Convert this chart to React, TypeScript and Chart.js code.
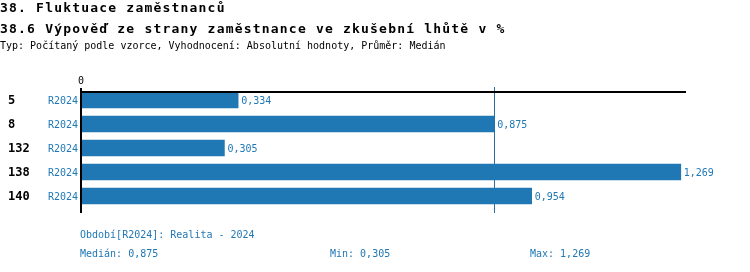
import React, { useEffect, useRef } from "react";
import { Chart, registerables } from "chart.js";

Chart.register(...registerables);

const title1 = "38. Fluktuace zaměstnanců";
const title2 = "38.6 Výpověď ze strany zaměstnance ve zkušební lhůtě v %";
const subtitle = "Typ: Počítaný podle vzorce, Vyhodnocení: Absolutní hodnoty, Průměr: Medián";
const periodCode = "R2024";
const periodName = "Realita - 2024";
const categories = ["5", "8", "132", "138", "140"];
const values = [0.334, 0.875, 0.305, 1.269, 0.954];
const xTicks = [0];
const axisMax = 1.28;

const BLUE = "#1f77b4";
const FONT = "'DejaVu Sans Mono', monospace";

const fmt = (v: number) => v.toFixed(3).replace(".", ",");
const sorted = [...values].sort((a, b) => a - b);
const median = sorted.length % 2 ? sorted[(sorted.length - 1) / 2] : (sorted[sorted.length / 2 - 1] + sorted[sorted.length / 2]) / 2;
const minV = sorted[0];
const maxV = sorted[sorted.length - 1];

const decorPlugin = {
  id: "decor",
  beforeDatasetsDraw(chart: any) {
    const { ctx, chartArea, scales } = chart;
    const xm = Math.round(scales.x.getPixelForValue(median)) + 0.5;
    ctx.save();
    ctx.strokeStyle = "#2a6f9f";
    ctx.lineWidth = 1;
    ctx.beginPath();
    ctx.moveTo(xm, chartArea.top - 1);
    ctx.lineTo(xm, chartArea.bottom + 5);
    ctx.stroke();
    ctx.restore();
  },
  afterDatasetsDraw(chart: any) {
    const { ctx, chartArea, scales } = chart;
    const x = scales.x;
    const y = scales.y;
    const x0 = x.getPixelForValue(0);
    ctx.save();
    // top line
    ctx.strokeStyle = "#000";
    ctx.lineWidth = 2;
    ctx.beginPath();
    ctx.moveTo(x0, chartArea.top + 4);
    ctx.lineTo(chartArea.right, chartArea.top + 4);
    ctx.stroke();
    // axis line
    ctx.beginPath();
    ctx.moveTo(x0 + 1, chartArea.top);
    ctx.lineTo(x0 + 1, chartArea.bottom + 5);
    ctx.stroke();
    // tick labels
    ctx.fillStyle = "#000";
    ctx.font = `10px ${FONT}`;
    ctx.textAlign = "center";
    ctx.textBaseline = "middle";
    xTicks.forEach((t) => {
      ctx.fillText(String(t), x.getPixelForValue(t) + 1, chartArea.top - 7);
    });
    // category labels
    categories.forEach((c, i) => {
      const yc = y.getPixelForValue(i) + 1;
      ctx.fillStyle = "#000";
      ctx.font = `bold 12px ${FONT}`;
      ctx.textAlign = "left";
      ctx.fillText(c, 8, yc);
      ctx.fillStyle = BLUE;
      ctx.font = `10px ${FONT}`;
      ctx.textAlign = "right";
      ctx.fillText(periodCode, x0 - 2, yc);
      ctx.textAlign = "left";
      ctx.fillText(fmt(values[i]), x.getPixelForValue(values[i]) + 3, yc);
    });
    ctx.restore();
  },
};

export default function App() {
  const ref = useRef<HTMLCanvasElement>(null);
  useEffect(() => {
    if (!ref.current) return;
    const chart = new Chart(ref.current, {
      type: "bar",
      data: {
        labels: categories,
        datasets: [
          {
            label: periodCode,
            data: values,
            backgroundColor: BLUE,
            borderWidth: 0,
            barThickness: 16,
          },
        ],
      },
      options: {
        indexAxis: "y",
        responsive: false,
        animation: false,
        events: [],
        layout: { padding: { left: 80, right: 64, top: 88, bottom: 64 } },
        plugins: { legend: { display: false }, tooltip: { enabled: false }, title: { display: false } },
        scales: {
          x: { display: false, min: 0, max: axisMax },
          y: { display: false, type: "category" },
        },
      },
      plugins: [decorPlugin],
    });
    return () => chart.destroy();
  }, []);

  const txt = (top: number, left: number, size: number, lh: number, extra: React.CSSProperties = {}) => ({
    position: "absolute" as const,
    top,
    left,
    fontFamily: FONT,
    fontSize: size,
    lineHeight: `${lh}px`,
    whiteSpace: "pre" as const,
    margin: 0,
    ...extra,
  });

  return (
    <div style={{ position: "absolute", left: 0, top: 0, width: 750, height: 272, background: "#fff", overflow: "hidden" }}>
      <canvas ref={ref} width={750} height={272} style={{ position: "absolute", left: 0, top: 0, width: 750, height: 272 }} />
      <div style={txt(0, 0, 13, 16, { fontWeight: "bold", letterSpacing: "1.2px", color: "#000" })}>{title1}</div>
      <div style={txt(21, 0, 13, 16, { fontWeight: "bold", letterSpacing: "1.2px", color: "#000" })}>{title2}</div>
      <div style={txt(40, 0, 10, 12, { color: "#000" })}>{subtitle}</div>
      <div style={txt(229, 80, 10, 12, { color: BLUE })}>{`Období[${periodCode}]: ${periodName}`}</div>
      <div style={txt(248, 80, 10, 12, { color: BLUE })}>{`Medián: ${fmt(median)}`}</div>
      <div style={txt(248, 330, 10, 12, { color: BLUE })}>{`Min: ${fmt(minV)}`}</div>
      <div style={txt(248, 530, 10, 12, { color: BLUE })}>{`Max: ${fmt(maxV)}`}</div>
    </div>
  );
}
